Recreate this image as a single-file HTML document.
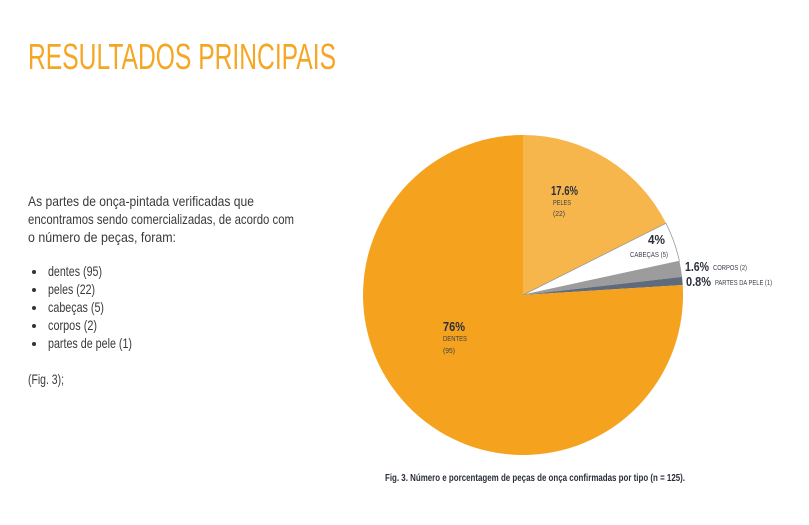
<!DOCTYPE html>
<html><head><meta charset="utf-8"><style>
html,body{margin:0;padding:0;background:#fff;}
svg{display:block;}
text{font-family:"Liberation Sans",sans-serif;}
</style></head><body>
<svg width="809" height="525" viewBox="0 0 809 525" xmlns="http://www.w3.org/2000/svg">
<rect width="809" height="525" fill="#fff"/>
<text x="28" y="69" font-size="36" fill="#F5A623" textLength="308" lengthAdjust="spacingAndGlyphs">RESULTADOS PRINCIPAIS</text>
<g fill="#3a3a3a" font-size="14">
<text x="28" y="206" textLength="226" lengthAdjust="spacingAndGlyphs">As partes de onça-pintada verificadas que</text>
<text x="28" y="224" textLength="266" lengthAdjust="spacingAndGlyphs">encontramos sendo comercializadas,  de acordo com</text>
<text x="28" y="242" textLength="148" lengthAdjust="spacingAndGlyphs">o número de peças, foram:</text>
<text x="48" y="276" textLength="54" lengthAdjust="spacingAndGlyphs">dentes (95)</text>
<text x="48" y="294" textLength="47" lengthAdjust="spacingAndGlyphs">peles (22)</text>
<text x="48" y="312" textLength="56" lengthAdjust="spacingAndGlyphs">cabeças (5)</text>
<text x="48" y="330" textLength="49" lengthAdjust="spacingAndGlyphs">corpos (2)</text>
<text x="48" y="348" textLength="84" lengthAdjust="spacingAndGlyphs">partes de pele (1)</text>
<text x="28" y="384" textLength="36" lengthAdjust="spacingAndGlyphs">(Fig. 3);</text>
</g>
<g fill="#333">
<circle cx="34" cy="272" r="2"/><circle cx="34" cy="290" r="2"/><circle cx="34" cy="308" r="2"/><circle cx="34" cy="326" r="2"/><circle cx="34" cy="344" r="2"/>
</g>
<!-- pie: center 523,295 r160 -->
<path d="M523,295 L523,135 A160,160 0 0,1 666,223.3 Z" fill="#F7B64C"/>
<path d="M523,295 L666,223.3 A160,160 0 0,1 679.4,261.1 Z" fill="#fff" stroke="#9a9a9a" stroke-width="0.8"/>
<path d="M523,295 L679.4,261.1 A160,160 0 0,1 682,276.9 Z" fill="#9c9c9c"/>
<path d="M523,295 L682,276.9 A160,160 0 0,1 682.7,285 Z" fill="#5f6a7c"/>
<path d="M523,295 L682.7,285 A160,160 0 1,1 523,135 Z" fill="#F5A31E"/>
<g font-weight="bold" fill="#2a2f3a">
<text x="551" y="195" font-size="13" textLength="27" lengthAdjust="spacingAndGlyphs">17.6%</text>
<text x="648" y="244" font-size="13" textLength="17" lengthAdjust="spacingAndGlyphs">4%</text>
<text x="685" y="271" font-size="13" textLength="24" lengthAdjust="spacingAndGlyphs">1.6%</text>
<text x="686" y="286" font-size="13" textLength="25" lengthAdjust="spacingAndGlyphs">0.8%</text>
<text x="443" y="331" font-size="13" textLength="22" lengthAdjust="spacingAndGlyphs">76%</text>
</g>
<g font-size="7" fill="#3a3f4a">
<text x="553" y="205" textLength="18" lengthAdjust="spacingAndGlyphs">PELES</text>
<text x="553" y="216" textLength="12" lengthAdjust="spacingAndGlyphs">(22)</text>
<text x="630" y="257" textLength="38" lengthAdjust="spacingAndGlyphs">CABEÇAS (5)</text>
<text x="713" y="270" textLength="34" lengthAdjust="spacingAndGlyphs">CORPOS (2)</text>
<text x="715" y="285" textLength="57" lengthAdjust="spacingAndGlyphs">PARTES DA PELE (1)</text>
<text x="443" y="341" textLength="24" lengthAdjust="spacingAndGlyphs">DENTES</text>
<text x="443" y="353" textLength="12" lengthAdjust="spacingAndGlyphs">(95)</text>
</g>
<text x="385" y="481" font-size="10" font-weight="bold" fill="#2a2f3a" textLength="300" lengthAdjust="spacingAndGlyphs">Fig. 3. Número e porcentagem de peças de onça confirmadas por tipo (n = 125).</text>
</svg>
</body></html>
